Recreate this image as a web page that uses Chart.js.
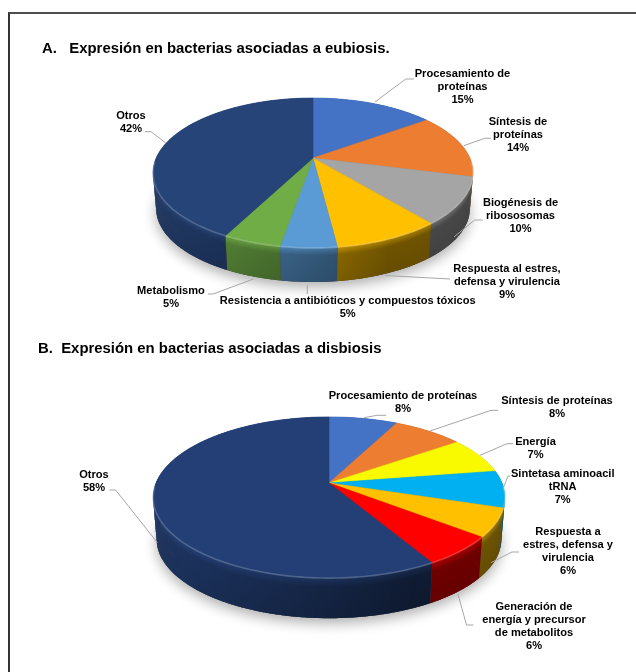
<!DOCTYPE html>
<html lang="es">
<head>
<meta charset="utf-8">
<script src="https://cdn.jsdelivr.net/npm/chart.js@4"></script>
<style>
html,body{margin:0;padding:0;background:#fff;width:636px;height:672px;overflow:hidden}
#frame{position:absolute;left:8px;top:12px;width:628px;height:660px;border-top:2px solid #4d4d4d;border-left:2px solid #333;box-sizing:border-box}
canvas{position:absolute;left:0}
</style>
</head>
<body>
<div id="frame"></div>
<canvas id="a" width="636" height="336" style="top:0"></canvas>
<canvas id="b" width="636" height="336" style="top:336px"></canvas>
<script>
const titleA = "A.   Expresión en bacterias asociadas a eubiosis.";
const titleB = "B.  Expresión en bacterias asociadas a disbiosis";

const categoriesA = [["Procesamiento de","proteínas"],["Síntesis de","proteínas"],["Biogénesis de","ribososomas"],["Respuesta al estres,","defensa y virulencia"],["Resistencia a antibióticos y compuestos tóxicos"],["Metabolismo"],["Otros"]];
const valuesA = [15,14,10,9,4.7,4.9,42.4];
const colorsA = ["#4472c4","#ed7d31","#a5a5a5","#ffc000","#5b9bd5","#70ad47","#264478"];

const categoriesB = [["Procesamiento de proteínas"],["Síntesis de proteínas"],["Energía"],["Sintetasa aminoacil","tRNA"],["Respuesta a","estres, defensa y","virulencia"],["Generación de","energía y precursor","de metabolitos"],["Otros"]];
const valuesB = [7.5,7.7,7.3,7.4,5.7,6.0,58.4];
const colorsB = ["#4472c4","#ed7d31","#f9f900","#00b0f0","#ffc000","#ff0000","#233f75"];

// label placement: [centre x, first line centre y, leader polyline]
const placeA = [
 [462.5,73.5,[[375,102],[405.7,79],[414,79]]],
 [518,121.5,[[463.7,145.7],[484.8,138.3],[491,138.3]]],
 [520.5,203,[[454,237],[474.6,220],[482.7,220]]],
 [507,268.8,[[385,275.5],[450,279]]],
 [347.7,301,[[307.3,285],[307.3,294]]],
 [171,290.5,[[253.5,279],[213,294],[208,294]]],
 [131,115.5,[[165.5,142.7],[151,131.7],[145,131.7]]]
];
const placeB = [
 [403,59.5,[[364,81.7],[377,79.3],[386,79.3]]],
 [557,64.8,[[430,95],[491,74.3],[498,74.3]]],
 [535.5,105.5,[[480,119.3],[507,107.7],[513,107.7]]],
 [562.7,137.5,[[503,152.7],[508,140],[510,140]]],
 [568,195.8,[[491,226.7],[512,216],[519,216]]],
 [534,270.8,[[458,258.3],[466.5,289],[473.4,289]]],
 [94,138.8,[[157.4,206.7],[115.6,154],[109.5,154]]]
];

function rgb(hex,f){
  const n=parseInt(hex.slice(1),16);
  const c=s=>Math.round(Math.min(255,((n>>s)&255)*f));
  return `rgb(${c(16)},${c(8)},${c(0)})`;
}
function project(g,a,bottom){
  const u=Math.cos(a),v=Math.sin(a),w=1-g.k*v;
  const m=bottom?g.shrink:1;
  return [g.x+g.r*u/w*m, g.y+g.r*g.squash*v/w*m+(bottom?g.depth:0)];
}
function rim(ctx,g,a0,a1,bottom,first){
  const n=Math.max(2,Math.ceil((a1-a0)/0.02));
  for(let i=0;i<=n;i++){
    const p=project(g,a0+(a1-a0)*i/n,bottom);
    if(i===0&&first) ctx.moveTo(p[0],p[1]); else ctx.lineTo(p[0],p[1]);
  }
}
// top face of each slice, placed by the library's own angles
Chart.ArcElement.prototype.draw=function(ctx){
  const g=this.geo, col=this.options.backgroundColor;
  ctx.save();
  ctx.beginPath();
  ctx.moveTo(g.x,g.y);
  rim(ctx,g,this.startAngle,this.endAngle,false,false);
  ctx.closePath();
  ctx.fillStyle=col; ctx.strokeStyle=col; ctx.lineWidth=.6;
  ctx.fill(); ctx.stroke();
  // bevel on the near edge
  const lo=Math.max(this.startAngle,0.05), hi=Math.min(this.endAngle,Math.PI-0.05);
  if(hi>lo){
    ctx.beginPath();
    rim(ctx,g,lo,hi,false,true);
    ctx.strokeStyle="rgba(255,255,255,0.2)"; ctx.lineWidth=1.6; ctx.stroke();
  }
  ctx.restore();
};

const pie3d={
  id:"pie3d",
  beforeDatasetsDraw(chart,args,opts){
    const ctx=chart.ctx, els=chart.getDatasetMeta(0).data;
    const g=Object.assign({},opts,{x:els[0].x,y:els[0].y,r:els[0].outerRadius});
    els.forEach(e=>e.geo=g);
    // soft cast shadow
    ctx.save();
    ctx.shadowColor="rgba(0,0,0,0.32)"; ctx.shadowBlur=13; ctx.shadowOffsetY=5;
    ctx.fillStyle="#444";
    ctx.beginPath(); rim(ctx,g,0,Math.PI*2,true,true); ctx.closePath(); ctx.fill();
    ctx.restore();
    // outer wall: overlapping fills, no seams
    els.forEach((e,i)=>{
      const col=chart.data.datasets[0].backgroundColor[i];
      const span=e.endAngle-e.startAngle;
      const n=Math.max(1,Math.ceil(span/0.012));
      for(let j=0;j<n;j++){
        const a0=e.startAngle+span*j/n, a1=e.startAngle+span*(j+1)/n+(j<n-1?0.006:0);
        const p0=project(g,a0,false),p1=project(g,a1,false),q0=project(g,a0,true),q1=project(g,a1,true);
        const t=((p0[0]+p1[0])/2-g.x+g.r)/(2*g.r);
        const f=Math.max(.43,.84-.55*t);
        const gr=ctx.createLinearGradient(0,(p0[1]+p1[1])/2,0,(q0[1]+q1[1])/2);
        gr.addColorStop(0,rgb(col,Math.min(1,f+.22)));
        gr.addColorStop(.22,rgb(col,f));
        gr.addColorStop(1,rgb(col,f*.93));
        ctx.fillStyle=gr;
        ctx.beginPath(); ctx.moveTo(p0[0],p0[1]); ctx.lineTo(p1[0],p1[1]); ctx.lineTo(q1[0],q1[1]); ctx.lineTo(q0[0],q0[1]); ctx.closePath();
        ctx.fill();
      }
    });
  },
  afterDraw(chart,args,opts){
    const ctx=chart.ctx, ds=chart.data.datasets[0];
    ctx.save();
    ctx.font=`bold ${opts.titleSize}px "Liberation Sans"`;
    ctx.fillStyle="#000"; ctx.textBaseline="middle"; ctx.textAlign="left";
    ctx.fillText(opts.title,opts.titleX,opts.titleY);
    ctx.strokeStyle="#a6a6a6"; ctx.lineWidth=1;
    opts.place.forEach(([cx,cy,line],i)=>{
      ctx.beginPath();
      line.forEach((p,k)=>k?ctx.lineTo(p[0],p[1]):ctx.moveTo(p[0],p[1]));
      ctx.stroke();
      const text=chart.data.labels[i].concat(Math.round(ds.data[i])+"%");
      ctx.font='bold 11.1px "Liberation Sans"'; ctx.textAlign="center"; ctx.fillStyle="#000";
      text.forEach((s,k)=>ctx.fillText(s,cx,cy+k*13));
    });
    ctx.restore();
  }
};

function make(id,labels,data,colors,radius,padding,geo){
  return new Chart(document.getElementById(id),{
    type:"pie",
    data:{labels,datasets:[{data,backgroundColor:colors,borderWidth:0,radius}]},
    options:{responsive:false,animation:false,layout:{padding},
      plugins:{legend:{display:false},tooltip:{enabled:false},pie3d:geo}},
    plugins:[pie3d]
  });
}
make("a",categoriesA,valuesA,colorsA,156.8,{left:0,right:10,top:0,bottom:20},
  {k:.2,squash:72/156.8,depth:35.8,shrink:.98,place:placeA,title:titleA,titleX:42,titleY:48.5,titleSize:14.9});
make("b",categoriesB,valuesB,colorsB,173,{left:22,right:0,top:0,bottom:42},
  {k:.18,squash:78/173,depth:42,shrink:.98,place:placeB,title:titleB,titleX:38,titleY:12.8,titleSize:14.9});
</script>
</body>
</html>
